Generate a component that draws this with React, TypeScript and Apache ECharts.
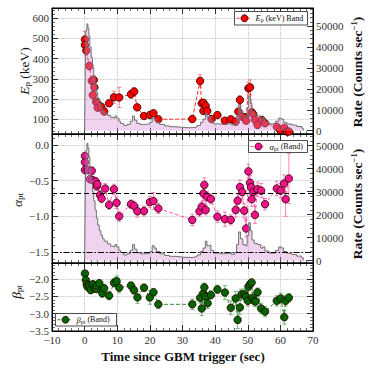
import React, { useEffect, useRef } from "react";
import * as echarts from "echarts";

const FONT = '"Liberation Serif", "DejaVu Serif", serif';

// ---- light curve (counts / sec)
const lcTime = [0, 0.2, 0.4, 0.7, 1.0, 1.3, 1.6, 2.0, 2.4, 2.8, 3.2, 3.6, 4.0, 4.5, 5.0, 5.5, 6.0, 7.0, 8.0, 8.7, 9.3, 9.8, 10.5, 11.0, 12.0, 13.0, 14.0, 14.7, 15.3, 16.0, 17.0, 18.0, 19.0, 20.0, 20.7, 21.3, 22.0, 23.0, 24.5, 26.0, 28.0, 30.0, 32.0, 33.5, 34.5, 35.5, 36.3, 37.0, 37.5, 38.0, 38.7, 39.5, 41.0, 42.5, 44.0, 45.0, 46.0, 46.6, 47.2, 47.8, 48.5, 49.2, 49.8, 50.3, 50.8, 51.3, 52.0, 53.0, 54.0, 54.6, 55.3, 56.5, 57.5, 58.5, 59.5, 60.3, 61.0, 62.0, 63.5, 65.0, 66.5, 67.0];
const lcRate = [0, 30000, 48000, 51000, 49000, 45000, 40000, 35000, 30000, 26000, 22000, 18500, 15500, 13000, 11000, 9500, 8500, 7300, 6300, 6000, 7000, 6000, 4500, 3500, 2500, 3000, 4500, 7000, 5000, 3500, 3000, 3000, 3300, 4000, 6500, 5500, 4000, 3000, 2300, 1900, 1600, 1400, 1500, 1800, 2500, 4000, 5500, 8500, 6500, 6800, 4500, 3300, 3000, 3200, 3400, 2800, 3500, 7000, 12500, 9500, 7000, 6500, 11000, 16500, 13000, 9000, 7500, 7000, 5500, 6000, 4200, 3300, 3300, 4500, 6000, 5500, 4000, 3200, 2700, 2000, 1300, 0];

// ---- Ep (keV)
const epTime = [0.1, 0.1, 0.5, 1.45, 2.2, 2.5, 2.8, 3.0, 3.5, 3.9, 4.0, 5.1, 6.0, 7.5, 9.0, 10.6, 14.2, 15.2, 16.1, 18.2, 20.0, 21.1, 22.6, 33.0, 35.4, 35.9, 36.4, 36.4, 37.1, 37.6, 38.9, 40.7, 43.0, 44.8, 46.3, 47.1, 47.6, 48.3, 49.2, 49.5, 50.2, 50.7, 51.2, 51.7, 52.2, 53.0, 54.3, 55.3, 58.9, 59.9, 61.2, 62.0, 62.6];
const epVal = [495, 468, 440, 364, 290, 220, 295, 258, 187, 179, 157, 162, 138, 179, 209, 208, 224, 237, 159, 116, 121, 130, 100, 101, 290, 179, 182, 141, 166, 141, 101, 121, 93, 100, 88, 138, 196, 113, 110, 93, 253, 258, 135, 125, 97, 72, 97, 80, 63, 47, 58, 39, 39];
const epErr = [40, 30, 25, 20, 18, 15, 20, 15, 12, 12, 10, 12, 10, 15, 30, 50, 20, 20, 15, 10, 10, 12, 10, 10, 30, 15, 15, 12, 15, 12, 10, 12, 10, 10, 10, 12, 20, 10, 10, 10, 30, 37, 15, 12, 10, 8, 10, 8, 8, 6, 8, 5, 5];

// ---- alpha
const alTime = [0.1, 0.1, 0.1, 0.95, 1.65, 2.2, 2.4, 3.4, 3.7, 3.9, 4.7, 5.2, 6.3, 7.5, 9.0, 9.8, 10.6, 14.2, 15.2, 16.2, 18.2, 20.0, 21.1, 22.6, 33.0, 35.2, 35.9, 36.4, 36.7, 37.1, 37.6, 38.7, 40.7, 43.0, 44.8, 46.3, 46.9, 47.6, 48.3, 48.9, 49.5, 50.2, 50.7, 51.0, 51.2, 51.7, 52.2, 53.0, 54.1, 55.3, 58.9, 60.1, 61.1, 61.6, 62.6];
const alVal = [-0.154, -0.243, -0.35, -0.35, -0.48, -0.36, -0.49, -0.51, -0.58, -0.55, -0.70, -0.75, -0.61, -0.84, -0.62, -0.81, -1.00, -0.83, -0.855, -0.93, -0.925, -0.80, -0.785, -0.89, -1.05, -0.93, -0.865, -0.68, -0.56, -0.91, -0.725, -0.757, -1.005, -1.04, -1.05, -0.91, -0.78, -0.59, -0.66, -0.92, -1.17, -0.37, -0.53, -0.59, -0.76, -0.66, -0.98, -0.62, -0.64, -0.83, -0.61, -0.64, -0.54, -0.76, -0.47];
const alErr = [0.05, 0.05, 0.05, 0.05, 0.05, 0.05, 0.05, 0.05, 0.05, 0.06, 0.06, 0.06, 0.07, 0.06, 0.07, 0.08, 0.07, 0.06, 0.07, 0.08, 0.07, 0.08, 0.12, 0.07, 0.08, 0.07, 0.07, 0.1, 0.1, 0.07, 0.07, 0.07, 0.08, 0.1, 0.07, 0.1, 0.1, 0.1, 0.1, 0.1, 0.12, 0.1, 0.1, 0.1, 0.1, 0.1, 0.12, 0.1, 0.1, 0.08, 0.1, 0.1, 0.12, 0.24, 0.35];

// ---- beta
const beTime = [0.1, 0.35, 0.65, 0.85, 1.45, 1.85, 2.5, 3.0, 3.6, 3.7, 4.5, 5.4, 6.0, 7.5, 9.0, 9.8, 10.6, 14.2, 15.1, 16.2, 18.2, 20.0, 21.1, 22.6, 33.0, 35.4, 35.9, 36.4, 36.7, 37.1, 37.7, 38.7, 40.7, 43.0, 44.8, 46.3, 46.9, 47.6, 48.1, 49.0, 49.5, 50.0, 50.2, 50.7, 51.2, 51.5, 52.0, 52.4, 53.0, 54.1, 55.3, 58.9, 60.1, 61.2, 61.6, 62.6];
const beVal = [-1.84, -2.03, -2.15, -2.22, -2.19, -2.32, -2.15, -2.27, -2.29, -2.19, -2.12, -2.41, -2.27, -2.48, -2.11, -2.06, -2.25, -2.19, -2.32, -2.53, -2.25, -2.53, -2.38, -2.73, -2.73, -2.54, -2.85, -2.41, -2.24, -2.51, -2.70, -2.46, -2.30, -2.39, -2.83, -2.56, -3.18, -2.82, -2.44, -2.44, -2.51, -2.63, -2.22, -2.15, -2.10, -2.54, -2.63, -2.65, -2.38, -2.85, -2.94, -2.63, -2.56, -3.10, -2.63, -2.54];
const beErr = [0.08, 0.1, 0.1, 0.1, 0.1, 0.1, 0.1, 0.1, 0.1, 0.1, 0.1, 0.12, 0.12, 0.12, 0.12, 0.15, 0.15, 0.1, 0.12, 0.18, 0.1, 0.2, 0.1, 0.12, 0.15, 0.15, 0.2, 0.15, 0.12, 0.12, 0.15, 0.12, 0.12, 0.2, 0.2, 0.2, 0.25, 0.2, 0.15, 0.15, 0.15, 0.15, 0.12, 0.1, 0.1, 0.15, 0.15, 0.15, 0.12, 0.15, 0.15, 0.15, 0.15, 0.2, 0.15, 0.12];

// ---- tick labels
const epTicks = [100, 200, 300, 400, 500, 600];
const rateTicks = [0, 10000, 20000, 30000, 40000, 50000];
const alphaTicks = [-1.5, -1.0, -0.5, 0.0];
const betaTicks = [-3.5, -3.0, -2.5, -2.0];

// ---- axis extents
const EP_MIN = 27, EP_MAX = 651;
const R1_MIN = -1576, R1_MAX = 58596;
const AL_MIN = -1.654, AL_MAX = 0.154;
const R2_MIN = -1000, R2_MAX = 55087;
const BE_MIN = -3.5, BE_MAX = -1.538;

function minorVals(min: number, max: number, step: number, majors: number[]) {
  const out: number[] = [];
  const s = Math.ceil(min / step - 1e-9);
  const e = Math.floor(max / step + 1e-9);
  for (let i = s; i <= e; i++) {
    const v = Math.round(i * step * 1e6) / 1e6;
    if (!majors.some((m) => Math.abs(m - v) < step * 1e-3)) out.push(v);
  }
  return out;
}

const minus = (s: string) => s.replace("-", "\u2212");
const fmt1 = (v: number) => minus(Number(v).toFixed(1));
const fmt0 = (v: number) => minus(String(Math.round(v)));

const LABEL = { fontFamily: FONT, fontSize: 11, color: "#333" };

function yMain(grid: number, min: number, max: number, majors: number[], pos: string, showLabel: boolean, fmt: any, split: boolean) {
  return {
    type: "value", gridIndex: grid, min, max, position: pos,
    axisLine: { show: true, onZero: false, lineStyle: { color: "#000", width: 1 } },
    axisTick: { show: true, inside: true, length: 6, customValues: majors, lineStyle: { color: "#000", width: 0.8 } },
    axisLabel: { show: showLabel, customValues: majors, formatter: fmt, margin: 3, showMinLabel: true, showMaxLabel: true, hideOverlap: false, ...LABEL },
    splitLine: { show: split, lineStyle: { color: "#b0b0b0", type: "dotted", width: 0.8 } },
  };
}
function yMinor(grid: number, min: number, max: number, vals: number[], pos: string) {
  return {
    type: "value", gridIndex: grid, min, max, position: pos,
    axisLine: { show: false, onZero: false },
    axisTick: { show: true, inside: true, length: 3, customValues: vals, lineStyle: { color: "#000", width: 0.6 } },
    axisLabel: { show: false },
    splitLine: { show: false },
  };
}
function xAx(grid: number, pos: string, showLabel: boolean, split: boolean) {
  return {
    type: "value", gridIndex: grid, min: -10, max: 70, interval: 10, position: pos,
    axisLine: { show: true, onZero: false, lineStyle: { color: "#000", width: 1 } },
    axisTick: { show: true, inside: true, length: 6, lineStyle: { color: "#000", width: 0.8 } },
    minorTick: { show: true, splitNumber: 5, length: 3, lineStyle: { color: "#000", width: 0.6 } },
    axisLabel: { show: showLabel, formatter: fmt0, margin: 3, showMinLabel: true, showMaxLabel: true, hideOverlap: false, ...LABEL },
    splitLine: { show: split, lineStyle: { color: "#b0b0b0", type: "dotted", width: 0.8 } },
  };
}

function errRender(color: string) {
  return (_p: any, api: any) => {
    const x = api.value(0), y = api.value(1), e = api.value(2);
    const lo = api.coord([x, y - e]);
    const hi = api.coord([x, y + e]);
    const st = { stroke: color, lineWidth: 1 };
    return {
      type: "group",
      children: [
        { type: "line", shape: { x1: lo[0], y1: lo[1], x2: hi[0], y2: hi[1] }, style: st },
        { type: "line", shape: { x1: lo[0] - 2, y1: lo[1], x2: lo[0] + 2, y2: lo[1] }, style: st },
        { type: "line", shape: { x1: hi[0] - 2, y1: hi[1], x2: hi[0] + 2, y2: hi[1] }, style: st },
      ],
    };
  };
}

function paramSeries(xi: number, yi: number, t: number[], v: number[], e: number[], face: string, lineCol: string, errCol: string, extra?: any) {
  const pts = t.map((x, i) => [x, v[i]]);
  const eData = t.map((x, i) => [x, v[i], e[i]]);
  return [
    { type: "custom", xAxisIndex: xi, yAxisIndex: yi, data: eData, encode: { x: 0, y: 1 }, renderItem: errRender(errCol), z: 2, silent: true },
    { type: "line", xAxisIndex: xi, yAxisIndex: yi, data: pts, symbol: "none", lineStyle: { type: [4, 2], width: 1, color: lineCol }, z: 2, silent: true, ...(extra || {}) },
    { type: "scatter", xAxisIndex: xi, yAxisIndex: yi, data: pts, symbol: "circle", symbolSize: 7.5, itemStyle: { color: face, borderColor: "#2a0000", borderWidth: 0.8, opacity: 1 }, z: 3, silent: true },
  ];
}

function lcSeries(xi: number, yi: number) {
  return {
    type: "line", xAxisIndex: xi, yAxisIndex: yi, data: lcTime.map((t, i) => [t, lcRate[i]]),
    step: "end", symbol: "none", lineStyle: { color: "#707070", width: 1 },
    areaStyle: { color: "rgba(214,140,214,0.55)", origin: 0 }, z: 4, silent: true,
  };
}

function legendBox(x: number, y: number, w: number, h: number, color: string, lineCol: string, rich: string) {
  const cy = y + h / 2;
  return {
    type: "group",
    children: [
      { type: "rect", shape: { x, y, width: w, height: h }, style: { fill: "#fff", stroke: "#222", lineWidth: 0.8 }, z: 100 },
      { type: "line", shape: { x1: x + 2, y1: cy, x2: x + 17, y2: cy }, style: { stroke: lineCol, lineWidth: 1, lineDash: [3, 2] }, z: 101 },
      { type: "circle", shape: { cx: x + 10, cy, r: 3.5 }, style: { fill: color, stroke: "#2a0000", lineWidth: 0.8 }, z: 102 },
      {
        type: "text", x: x + 21, y: cy, z: 102,
        style: {
          text: rich, verticalAlign: "middle", align: "left", fill: "#111",
          rich: {
            i: { fontFamily: FONT, fontStyle: "italic", fontSize: 8.5 },
            s: { fontFamily: FONT, fontSize: 6, padding: [4, 0, 0, 0] },
            r: { fontFamily: FONT, fontSize: 8 },
          },
        },
      },
    ],
  };
}

function vTitle(x: number, y: number, text: string, bold: boolean) {
  const w = bold ? "bold" : "normal";
  return {
    type: "text", x, y, rotation: Math.PI / 2, z: 50,
    style: {
      text, align: "center", verticalAlign: "middle", fill: "#111",
      rich: {
        i: { fontFamily: FONT, fontStyle: "italic", fontSize: 13.5 },
        s: { fontFamily: FONT, fontSize: 9, padding: [6, 0, 0, 0] },
        r: { fontFamily: FONT, fontSize: 13.5, fontWeight: w },
        sup: { fontFamily: FONT, fontSize: 8.5, fontWeight: w, padding: [0, 0, 6, 0] },
      },
    },
  };
}

const option: any = {
  animation: false,
  backgroundColor: "#fff",
  grid: [
    { left: 52, top: 8, width: 261, height: 126, show: true, borderColor: "#000", borderWidth: 1 },
    { left: 52, top: 134, width: 261, height: 129, show: true, borderColor: "#000", borderWidth: 1 },
    { left: 52, top: 263, width: 261, height: 68, show: true, borderColor: "#000", borderWidth: 1 },
  ],
  xAxis: [
    xAx(0, "bottom", false, true), xAx(0, "top", false, false),
    xAx(1, "bottom", false, true), xAx(1, "top", false, false),
    xAx(2, "bottom", true, true), xAx(2, "top", false, false),
  ],
  yAxis: [
    yMain(0, EP_MIN, EP_MAX, epTicks, "left", true, fmt0, true),
    yMinor(0, EP_MIN, EP_MAX, minorVals(EP_MIN, EP_MAX, 20, epTicks), "left"),
    yMain(0, R1_MIN, R1_MAX, rateTicks, "right", true, fmt0, false),
    yMinor(0, R1_MIN, R1_MAX, minorVals(R1_MIN, R1_MAX, 2000, rateTicks), "right"),
    yMain(1, AL_MIN, AL_MAX, alphaTicks, "left", true, fmt1, true),
    yMinor(1, AL_MIN, AL_MAX, minorVals(AL_MIN, AL_MAX, 0.1, alphaTicks), "left"),
    yMain(1, R2_MIN, R2_MAX, rateTicks, "right", true, fmt0, false),
    yMinor(1, R2_MIN, R2_MAX, minorVals(R2_MIN, R2_MAX, 2000, rateTicks), "right"),
    yMain(2, BE_MIN, BE_MAX, betaTicks, "left", true, fmt1, true),
    yMinor(2, BE_MIN, BE_MAX, minorVals(BE_MIN, BE_MAX, 0.1, betaTicks), "left"),
    yMain(2, BE_MIN, BE_MAX, betaTicks, "right", false, fmt1, false),
    yMinor(2, BE_MIN, BE_MAX, minorVals(BE_MIN, BE_MAX, 0.1, betaTicks), "right"),
  ],
  series: [
    ...paramSeries(0, 0, epTime, epVal, epErr, "#ff0000", "#ff2a2a", "rgba(255,90,90,0.75)"),
    lcSeries(0, 2),
    ...paramSeries(2, 4, alTime, alVal, alErr, "#f0128a", "#ff5aaa", "rgba(255,90,170,0.75)", {
      markLine: {
        silent: true, symbol: "none", label: { show: false },
        data: [
          { yAxis: -2 / 3, lineStyle: { type: [5, 3], color: "#000", width: 1.2 } },
          { yAxis: -1.5, lineStyle: { type: [6, 2, 1.5, 2], color: "#000", width: 1 } },
        ],
      },
    }),
    lcSeries(2, 6),
    ...paramSeries(4, 8, beTime, beVal, beErr, "#006400", "#2e8b2e", "rgba(80,170,80,0.8)"),
  ],
  graphic: {
    elements: [
      legendBox(234.5, 11.5, 73, 13.5, "#ff0000", "#ff2a2a", "{i|E}{s|p}{r| (keV) Band}"),
      legendBox(248.5, 140.5, 59, 12, "#f0128a", "#ff5aaa", "{i|\u03b1}{s|pt}{r| (Band)}"),
      legendBox(55.5, 313.5, 61, 12.5, "#006400", "#2e8b2e", "{i|\u03b2}{s|pt}{r| (Band)}"),
      vTitle(24, 71, "{i|E}{s|p}{r| (keV)}", false),
      vTitle(17, 200, "{i|\u03b1}{s|pt}", false),
      vTitle(16, 292, "{i|\u03b2}{s|pt}", false),
      vTitle(357, 72, "{r|Rate (Counts sec}{sup|\u22121}{r|)}", true),
      vTitle(357, 204, "{r|Rate (Counts sec}{sup|\u22121}{r|)}", true),
      {
        type: "text", x: 183, y: 356, z: 50,
        style: { text: "Time since GBM trigger (sec)", align: "center", verticalAlign: "middle", fontFamily: FONT, fontSize: 13, fontWeight: "bold", fill: "#111" },
      },
    ],
  },
};

export default function App() {
  const ref = useRef<HTMLDivElement>(null);
  useEffect(() => {
    if (!ref.current) return;
    const chart = echarts.init(ref.current, undefined, { renderer: "svg" });
    chart.setOption(option);
    return () => chart.dispose();
  }, []);
  return <div ref={ref} style={{ position: "fixed", left: 0, top: 0, width: 370, height: 370 }} />;
}
